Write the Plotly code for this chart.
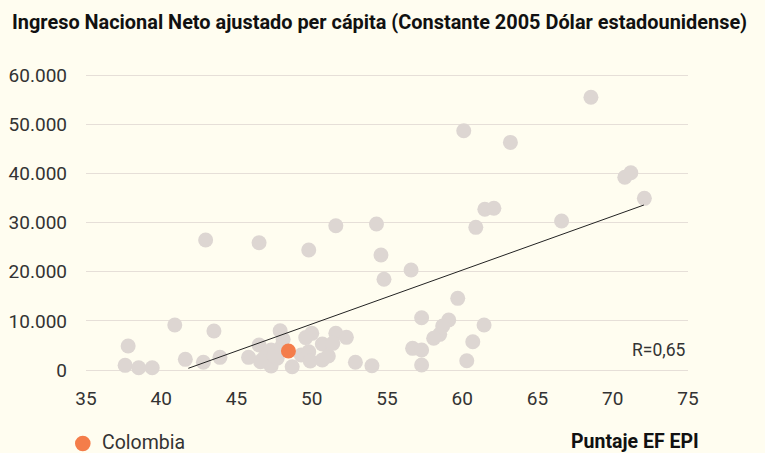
import plotly.graph_objects as go

# EF EPI score (x) vs net national income per capita (y)
otros_x = [37.8, 37.6, 38.5, 39.4, 40.9, 41.6, 42.8, 43.5, 43.9, 42.95,
           46.5, 49.8, 51.6, 54.3, 54.6, 54.8, 56.6, 60.1, 63.2, 68.55,
           70.8, 71.2, 72.1, 66.6, 61.5, 62.1, 60.9, 59.7, 57.3, 59.1,
           58.7, 61.45, 58.5, 58.1, 60.7, 56.7, 57.3, 60.3, 57.3, 52.9,
           54.0, 47.9, 46.5, 45.8, 46.7, 47.3, 47.3, 46.9, 47.7, 48.7,
           49.3, 50.0, 49.8, 49.9, 50.7, 50.7, 51.1, 51.6, 51.4, 52.3,
           48.1, 46.6, 47.5, 49.6, 48.0]
otros_y = [4880, 950, 470, 470, 9150, 2170, 1570, 7930, 2580, 26440,
           25900, 24400, 29350, 29700, 23400, 18450, 20340, 48670, 46300, 55470,
           39200, 40130, 34920, 30300, 32690, 32890, 29020, 14580, 10640, 10170,
           8950, 9150, 7260, 6450, 5760, 4410, 4070, 1890, 1020, 1570,
           870, 7990, 5080, 2580, 2030, 4070, 810, 2700, 2380, 670,
           3050, 7460, 3720, 1830, 5290, 2030, 2850, 7460, 5430, 6650,
           6240, 1690, 3000, 6600, 4800]

colombia_x = [48.45]
colombia_y = [3860]

trend_x = [41.8, 72.07]
trend_y = [350, 33560]

x_ticks = [35, 40, 45, 50, 55, 60, 65, 70, 75]
y_ticks = [0, 10000, 20000, 30000, 40000, 50000, 60000]

BG = "#fffdf0"
GREY = "#ddd6d2"
ORANGE = "#f47d4a"
TXT = "#333333"
FONT = "Roboto"
W, H = 765, 453

fig = go.Figure()
fig.add_trace(go.Scatter(
    x=otros_x, y=otros_y, mode="markers",
    marker=dict(size=15, color=GREY, line=dict(width=0)),
    showlegend=False, cliponaxis=False, hoverinfo="x+y"))
fig.add_trace(go.Scatter(
    x=trend_x, y=trend_y, mode="lines",
    line=dict(color="#222222", width=1),
    showlegend=False, hoverinfo="skip"))
fig.add_trace(go.Scatter(
    x=colombia_x, y=colombia_y, mode="markers", name="Colombia",
    marker=dict(size=15, color=ORANGE, line=dict(width=0)),
    showlegend=False, cliponaxis=False))

# legend swatch position (pixels)
lx, ly, lr = 82.8, 443.5, 7.8

fig.update_layout(
    width=W, height=H,
    paper_bgcolor=BG, plot_bgcolor=BG,
    margin=dict(l=0, r=0, t=0, b=0, pad=0),
    separators=",.",
    showlegend=False,
    font=dict(family=FONT, size=19, color=TXT),
    title=dict(
        text="Ingreso Nacional Neto ajustado per cápita (Constante 2005 Dólar estadounidense)",
        font=dict(family=FONT, size=19.9, color="#111111", weight="bold"),
        xref="container", yref="container",
        x=12/W, xanchor="left", y=1-22/H, yanchor="middle"),
    xaxis=dict(
        domain=[86/W, 688/W], automargin=False,
        range=[35, 75], tickmode="array", tickvals=x_ticks,
        showgrid=False, zeroline=False, showline=False,
        ticks="", ticklabelstandoff=8,
        tickfont=dict(family=FONT, size=19, color=TXT)),
    yaxis=dict(
        domain=[(H-377.4)/H, (H-65.2)/H], automargin=False,
        range=[-1500, 62000], tickmode="array", tickvals=y_ticks,
        tickformat=",d", showgrid=True, gridcolor="#e6dfd8", gridwidth=1,
        zeroline=False, showline=False, ticks="", ticklabelstandoff=18,
        tickfont=dict(family=FONT, size=19, color=TXT)),
    shapes=[
        dict(type="circle", xref="paper", yref="paper",
             x0=(lx-lr)/W, x1=(lx+lr)/W, y0=1-(ly+lr)/H, y1=1-(ly-lr)/H,
             fillcolor=ORANGE, line=dict(width=0)),
    ],
    annotations=[
        dict(text="R=0,65", x=75, y=4070, xref="x", yref="y",
             xanchor="right", yanchor="middle", showarrow=False,
             font=dict(family=FONT, size=17.5, color=TXT)),
        dict(text="Colombia", x=100/W, xref="paper",
             y=1-442.5/H, yref="paper", xanchor="left", yanchor="middle",
             showarrow=False, font=dict(family=FONT, size=19.5, color=TXT)),
        dict(text="<b>Puntaje EF EPI</b>", x=701/W, xref="paper",
             y=1-441/H, yref="paper", xanchor="right", yanchor="middle",
             showarrow=False, font=dict(family=FONT, size=19.5, color="#111111")),
    ],
)

fig.write_html(
    "out.html",
    config={"displayModeBar": False},
    post_script="document.body.style.margin='0';document.body.style.background='#fffdf0';document.body.style.overflow='hidden';")
